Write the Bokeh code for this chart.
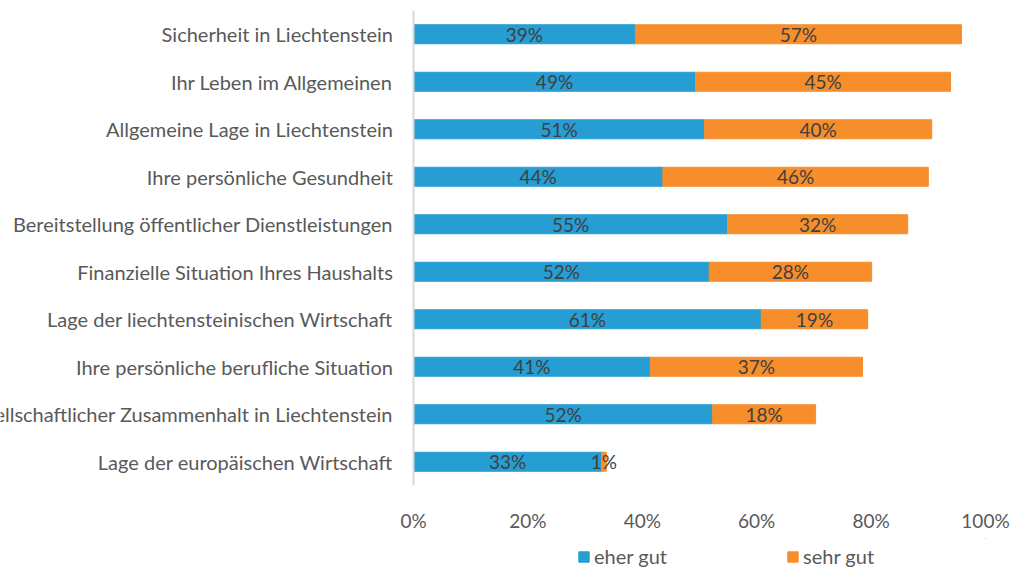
from bokeh.plotting import figure
from bokeh.layouts import column
from bokeh.models import Range1d, FactorRange, FixedTicker, Span, Legend, LegendItem, ColumnDataSource, PrintfTickFormatter
from bokeh.core.properties import value
from bokeh.embed import file_html
from bokeh.resources import INLINE

categories = [
    "Sicherheit in Liechtenstein",
    "Ihr Leben im Allgemeinen",
    "Allgemeine Lage in Liechtenstein",
    "Ihre persönliche Gesundheit",
    "Bereitstellung öffentlicher Dienstleistungen",
    "Finanzielle Situation Ihres Haushalts",
    "Lage der liechtensteinischen Wirtschaft",
    "Ihre persönliche berufliche Situation",
    "Gesellschaftlicher Zusammenhalt in Liechtenstein",
    "Lage der europäischen Wirtschaft",
]
eher_gut = [38.8, 49.3, 50.9, 43.6, 54.9, 51.7, 60.8, 41.4, 52.3, 32.9]
sehr_gut = [57.0, 44.6, 39.7, 46.4, 31.5, 28.4, 18.6, 37.1, 18.0, 0.8]
x_ticks = [0, 20, 40, 60, 80, 100]
series_names = ["eher gut", "sehr gut"]

BLUE = "#269dd3"
ORANGE = "#f68e2c"
FONT = "Lato"

total = [a + b for a, b in zip(eher_gut, sehr_gut)]
src = ColumnDataSource(dict(
    cat=categories,
    eher=eher_gut,
    sehr=sehr_gut,
    total=total,
    eher_mid=[a / 2 for a in eher_gut],
    sehr_mid=[a + b / 2 for a, b in zip(eher_gut, sehr_gut)],
    eher_lbl=[f"{round(a)}%" for a in eher_gut],
    sehr_lbl=[f"{max(1, round(b))}%" for b in sehr_gut],
    zero=[0] * len(categories),
    lblx=[-3.6] * len(categories),
))

W = 1013
H_MAIN, H_LEG = 538, 30
frame_left, frame_right = 0, 985
frame_top, frame_bottom = 10, 485
zero_px = 413
px_per = (frame_right - zero_px) / 100.0
x_start = -(zero_px - frame_left) / px_per

p = figure(
    width=W, height=H_MAIN,
    y_range=FactorRange(factors=list(reversed(categories)), range_padding=0),
    x_range=Range1d(x_start, 100),
    output_backend="svg", toolbar_location=None,
    y_axis_location=None,
    min_border_left=0, min_border_right=W - frame_right,
    min_border_top=frame_top, min_border_bottom=H_MAIN - frame_bottom,
)
p.outline_line_color = None
p.grid.grid_line_color = None
p.background_fill_color = "white"
p.border_fill_color = "white"

p.hbar(y="cat", left="zero", right="eher", height=0.4, color=BLUE, source=src)
p.hbar(y="cat", left="eher", right="total", height=0.4, color=ORANGE, source=src)

p.add_layout(Span(location=0, dimension="height", line_color="#d9d9d9", line_width=2))

p.text(x="eher_mid", y="cat", text="eher_lbl", source=src, text_align="center",
       text_baseline="middle", text_color="#404040", text_font=value(FONT), text_font_size="19px")
p.text(x="sehr_mid", y="cat", text="sehr_lbl", source=src, text_align="center",
       text_baseline="middle", text_color="#404040", text_font=value(FONT), text_font_size="19px")
p.text(x="lblx", y="cat", text="cat", source=src, text_align="right",
       text_baseline="middle", text_color="#595959", text_font=value(FONT), text_font_size="20px")

ax = p.xaxis[0]
ax.ticker = FixedTicker(ticks=x_ticks)
ax.formatter = PrintfTickFormatter(format="%d%%")
ax.axis_line_color = None
ax.major_tick_line_color = None
ax.minor_tick_line_color = None
ax.major_label_text_font = FONT
ax.major_label_text_font_size = "19px"
ax.major_label_text_color = "#595959"
ax.major_label_standoff = 17

# legend strip (its proxy bars lie outside the visible range)
p2 = figure(
    width=W, height=H_LEG, x_range=Range1d(0, 1), y_range=Range1d(0, 1),
    output_backend="svg", toolbar_location=None,
    x_axis_location=None, y_axis_location=None,
    min_border_left=0, min_border_right=0, min_border_top=0, min_border_bottom=0,
)
p2.outline_line_color = None
p2.grid.grid_line_color = None
proxy = ColumnDataSource(dict(y=[10], l=[10], r=[11]))
l1 = p2.hbar(y="y", left="l", right="r", height=0.4, color=BLUE, source=proxy)
l2 = p2.hbar(y="y", left="l", right="r", height=0.4, color=ORANGE, source=proxy)
legend = Legend(
    items=[LegendItem(label=series_names[0], renderers=[l1]),
           LegendItem(label=series_names[1], renderers=[l2])],
    orientation="horizontal", location=(577, 0),
    label_text_font=FONT, label_text_font_size="20px", label_text_color="#595959",
    glyph_width=13, glyph_height=13, label_width=100, spacing=92,
    padding=0, margin=0, label_standoff=4,
    border_line_color=None, background_fill_alpha=0,
)
p2.add_layout(legend, "center")

open("out.html", "w").write(file_html(column(p, p2, spacing=0), INLINE))
